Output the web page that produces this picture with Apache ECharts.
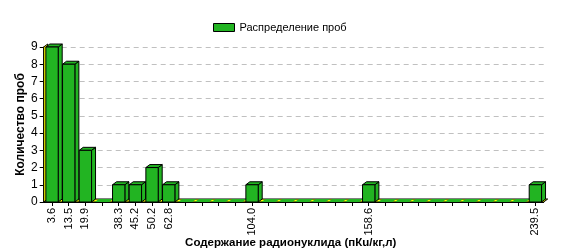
<!DOCTYPE html>
<html><head><meta charset="utf-8">
<script src="https://cdn.jsdelivr.net/npm/echarts@6/dist/echarts.min.js"></script>
<style>html,body{margin:0;padding:0;background:#fff}#c{width:561px;height:249px}</style>
</head><body><div id="c"></div>
<script>
const categories = ['3.6','13.5','19.9','','38.3','45.2','50.2','62.8','','','','','104.0','','','','','','','158.6','','','','','','','','','','239.5'];
const counts = [9,8,3,0,1,1,2,1,0,0,0,0,1,0,0,0,0,0,0,1,0,0,0,0,0,0,0,0,0,1];
const yTicks = [0,1,2,3,4,5,6,7,8,9];
const seriesName = 'Распределение проб';
const xTitle = 'Содержание радионуклида (пКu/кг,л)';
const yTitle = 'Количество проб';

const DX = 4, DY = -3;
const GREEN = '#22b422';
const FONT = 'Liberation Sans';

const chart = echarts.init(document.getElementById('c'), null, {renderer: 'canvas'});

function renderBar(params, api) {
  const idx = api.value(0), v = api.value(1);
  const p0 = api.coord([idx, 0]);
  const p1 = api.coord([idx, v]);
  const bw = api.size([1, 0])[0] * 0.74;
  const l = p0[0] - bw / 2, r = p0[0] + bw / 2;
  const top = p1[1], bottom = p0[1];
  const st = {fill: GREEN, stroke: '#000', lineWidth: 1};
  const children = [];
  if (v > 0) {
    children.push({type: 'polygon', shape: {points: [[r, top], [r + DX, top + DY], [r + DX, bottom + DY], [r, bottom]]}, style: st});
    children.push({type: 'polygon', shape: {points: [[l, top], [l + DX, top + DY], [r + DX, top + DY], [r, top]]}, style: st});
    children.push({type: 'rect', shape: {x: l, y: top, width: bw, height: bottom - top}, style: st});
  } else {
    children.push({type: 'polygon', shape: {points: [[l - 1, bottom], [l - 1 + DX, bottom + DY], [r + DX + 1, bottom + DY], [r + 1, bottom]]}, style: {fill: GREEN, stroke: null}});
  }
  return {type: 'group', children};
}

function renderFrame(params, api) {
  const n = categories.length;
  const b0 = api.coord([0, 0]);
  const bt = api.coord([0, yTicks[yTicks.length - 1]]);
  const w = api.size([1, 0])[0];
  const xl = b0[0] - w / 2, xr = b0[0] + (n - 0.5) * w;
  const y0 = b0[1], y9 = bt[1];
  const st = {fill: '#ffff00', stroke: '#000', lineWidth: 1};
  return {type: 'group', children: [
    {type: 'polygon', shape: {points: [[xl, y0], [xl + DX, y0 + DY], [xr + DX, y0 + DY], [xr, y0]]}, style: st},
    {type: 'polygon', shape: {points: [[xl, y0], [xl, y9], [xl + DX, y9 + DY], [xl + DX, y0 + DY]]}, style: st}
  ]};
}

chart.setOption({
  animation: false,
  textStyle: {fontFamily: FONT},
  legend: {
    data: [{name: seriesName, icon: 'rect'}],
    top: 17, left: 208,
    itemWidth: 21, itemHeight: 8, itemGap: 5,
    textStyle: {fontFamily: FONT, fontSize: 11, color: '#000'},
    itemStyle: {borderColor: '#000', borderWidth: 1}
  },
  grid: {left: 43.7, right: 17.3, top: 47, bottom: 47, containLabel: false, outerBoundsMode: 'none'},
  xAxis: {
    type: 'category', data: categories,
    name: xTitle, nameLocation: 'middle', nameGap: 35, nameMoveOverlap: false,
    nameTextStyle: {fontFamily: FONT, fontSize: 11.5, fontWeight: 'bold', color: '#000', padding: [0, 6, 0, 0]},
    axisLine: {show: true, lineStyle: {color: '#000', width: 1}},
    axisTick: {show: true, alignWithLabel: true, interval: 0, length: 4, lineStyle: {color: '#000'}},
    axisLabel: {interval: 0, rotate: 90, fontFamily: FONT, fontSize: 11, color: '#000', margin: 6},
    splitLine: {show: false}
  },
  yAxis: {
    type: 'value', min: 0, max: 9, interval: 1,
    name: yTitle, nameLocation: 'middle', nameGap: 17, nameMoveOverlap: false,
    nameTextStyle: {fontFamily: FONT, fontSize: 12, fontWeight: 'bold', color: '#000'},
    axisLine: {show: true, lineStyle: {color: '#000'}},
    axisTick: {show: true, length: 4, lineStyle: {color: '#000'}},
    axisLabel: {fontFamily: FONT, fontSize: 12, color: '#000', margin: 6},
    splitLine: {show: true, lineStyle: {color: '#c0c0c0', type: [5, 4], width: 1}}
  },
  series: [
    {type: 'custom', name: 'frame', renderItem: renderFrame, data: [[0, 0]], silent: true, z: 1, encode: {x: 0, y: 1}},
    {type: 'custom', name: seriesName, renderItem: renderBar, itemStyle: {color: GREEN},
     data: counts.map((v, i) => [i, v]), encode: {x: 0, y: 1}, z: 2}
  ]
});
</script></body></html>
